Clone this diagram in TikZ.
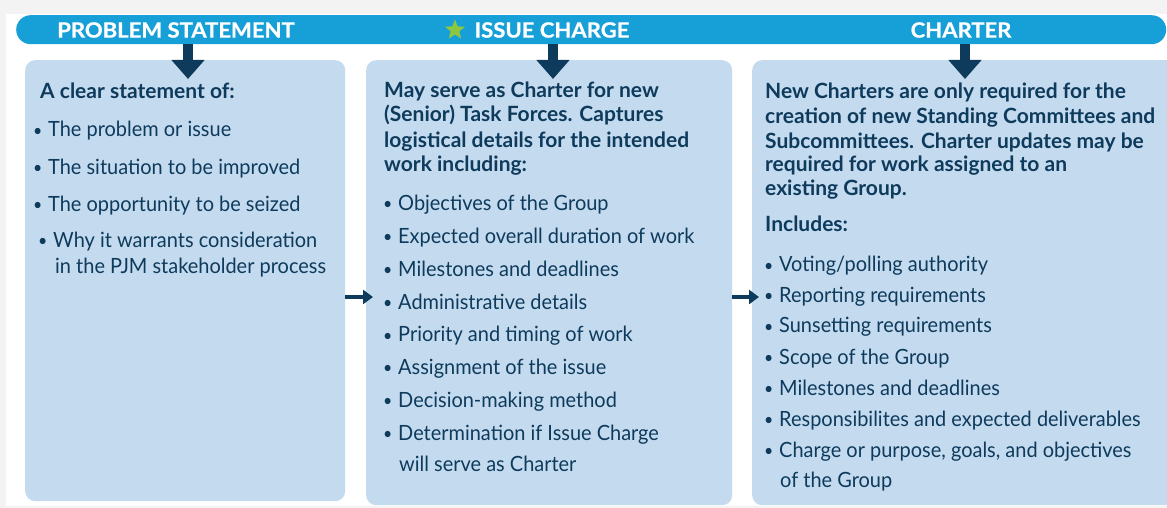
\documentclass[tikz,border=0pt]{standalone}
\usepackage{fontspec}
\usepackage{graphicx}
\setmainfont{Lato}
\newfontfamily\itemfont{Lato}[FakeStretch=0.95]
\newfontfamily\bannerfont{Lato}[FakeStretch=1.05, BoldFeatures={FakeBold=0.8}]
\usetikzlibrary{arrows.meta,shapes.geometric}

\definecolor{pagegray}{HTML}{F3F3F3}
\definecolor{bannerblue}{HTML}{17A0D7}
\definecolor{panelblue}{HTML}{C4DBEF}
\definecolor{navy}{HTML}{0E3A5C}
\definecolor{stargreen}{HTML}{8DC63F}

\newcommand{\bul}{\makebox[12pt][l]{\hspace{-3pt}\raisebox{0.6pt}{\scalebox{0.8}{•}}}}

\tikzset{
  panel/.style={fill=panelblue, rounded corners=10pt, anchor=north west, inner sep=0pt},
  bannertext/.style={text=white, font=\bannerfont\fontsize{21}{24}\selectfont\bfseries, inner sep=0pt},
  headline/.style={text=navy, font=\fontsize{21}{24}\selectfont\bfseries, anchor=base west, inner sep=0pt},
  itemline/.style={text=navy, font=\itemfont\fontsize{21}{24}\selectfont, anchor=base west, inner sep=0pt},
  downarrow/.style={navy, line width=10pt, -{Triangle[width=32pt,length=19pt]}},
  sidearrow/.style={navy, line width=4pt, -{Triangle[width=14pt,length=10pt]}},
}

\begin{document}
\begin{tikzpicture}[x=1pt, y=-1pt]
  % Fondo
  \fill[pagegray] (0,0) rectangle (1167,508);
  \fill[white] (6,14) rectangle (1167,506);
  \useasboundingbox (0,0) rectangle (1167,508);

  % Banda superior
  \node[fill=bannerblue, rounded corners=14.5pt, minimum width=1150pt, minimum height=29pt,
        inner sep=0pt, anchor=north west] (banner) at (16,15) {};
  \node[bannertext] (title1) at (176,30) {PROBLEM STATEMENT};
  \node[bannertext] (title2) at (552,30) {ISSUE CHARGE};
  \node[star, star points=5, star point ratio=2.3, fill=stargreen, inner sep=0pt,
        minimum size=21pt] (star) at (455,30) {};
  \node[bannertext] (title3) at (961,30) {CHARTER};

  % Cajas
  \node[panel, minimum width=320pt, minimum height=441pt] (box1) at (25,60) {};
  \node[panel, minimum width=366pt, minimum height=445pt] (box2) at (366,60) {};
  \node[panel, minimum width=425pt, minimum height=445pt] (box3) at (752,60) {};

  % Flechas
  \coordinate (tip1) at (188,79);
  \coordinate (tip2) at (553,79);
  \coordinate (tip3) at (965,79);
  \draw[downarrow] (banner.south -| tip1) -- (tip1);
  \draw[downarrow] (banner.south -| tip2) -- (tip2);
  \draw[downarrow] (banner.south -| tip3) -- (tip3);
  \coordinate (tip4) at (373,297);
  \coordinate (tip5) at (759,297);
  \draw[sidearrow] (box1.east |- tip4) -- (tip4);
  \draw[sidearrow] (box2.east |- tip5) -- (tip5);

  % Problem statement
  \node[headline] (p-head) at (40,99) {A clear statement of:};
  \foreach \x/\y/\txt [count=\i] in {36/137/{\bul The problem or issue},
      36/174/{\bul The situation to be improved}, 36/211/{\bul The opportunity to be seized},
      41/247/{\bul Why it warrants consideration}, 55/273/{in the PJM stakeholder process}}
    \node[itemline] (p-\i) at (\x,\y) {\txt};

  % Issue charge
  \foreach \y/\txt [count=\i] in {97.5/May serve as Charter for new,
      122/{(Senior) Task Forces. Captures}, 147/logistical details for the intended,
      171.5/work including:}
    \node[headline] (c-head\i) at (384,\y) {\txt};
  \foreach \x/\y/\txt [count=\i] in {386/210.5/{\bul Objectives of the Group},
      386/243.3/{\bul Expected overall duration of work}, 386/276/{\bul Milestones and deadlines},
      386/309/{\bul Administrative details}, 386/341.7/{\bul Priority and timing of work},
      386/374.3/{\bul Assignment of the issue}, 386/407.3/{\bul Decision-making method},
      386/440/{\bul Determination if Issue Charge}, 399/471.7/{will serve as Charter}}
    \node[itemline] (c-\i) at (\x,\y) {\txt};

  % Charter
  \foreach \y/\txt [count=\i] in {98.3/New Charters are only required for the,
      124/creation of new Standing Committees and,
      148.3/{Subcommittees. Charter updates may be},
      171.7/required for work assigned to an, 195.7/existing Group., 231.7/Includes:}
    \node[headline] (r-head\i) at (765,\y) {\txt};
  \foreach \x/\y/\txt [count=\i] in {767/271.7/{\bul Voting/polling authority},
      767/302.3/{\bul Reporting requirements}, 767/332.7/{\bul Sunsetting requirements},
      767/364/{\bul Scope of the Group}, 767/395/{\bul Milestones and deadlines},
      767/426/{\bul Responsibilites and expected deliverables},
      767/457/{\bul Charge or purpose, goals, and objectives}, 780/487/{of the Group}}
    \node[itemline] (r-\i) at (\x,\y) {\txt};
\end{tikzpicture}
\end{document}
